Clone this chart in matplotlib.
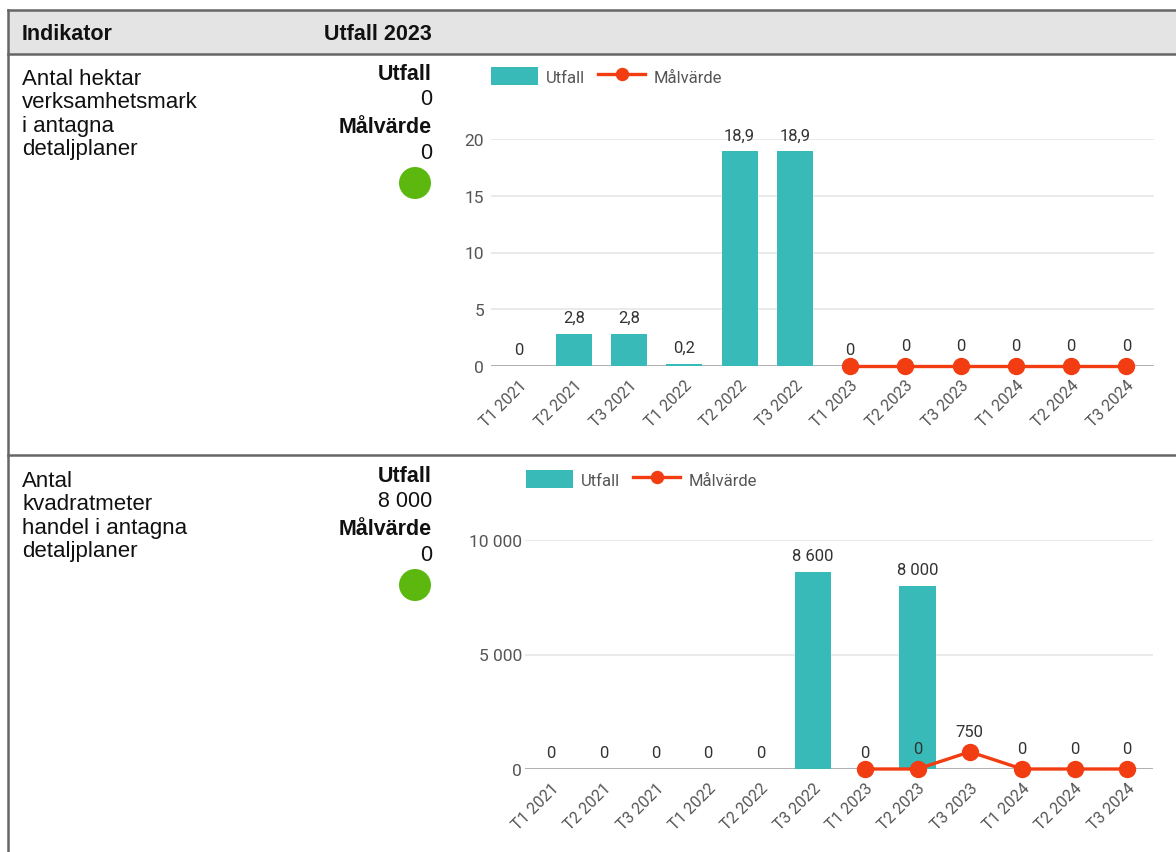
import matplotlib
matplotlib.use("Agg")
import matplotlib.pyplot as plt
import matplotlib.transforms as mtransforms
from matplotlib.patches import Rectangle, Ellipse
from matplotlib.lines import Line2D

# ---------------- data ----------------
categories = ["T1 2021", "T2 2021", "T3 2021", "T1 2022", "T2 2022", "T3 2022",
              "T1 2023", "T2 2023", "T3 2023", "T1 2024", "T2 2024", "T3 2024"]

utfall_hektar = [0, 2.8, 2.8, 0.2, 18.9, 18.9, 0, None, None, None, None, None]
malvarde_hektar = [None, None, None, None, None, None, 0, 0, 0, 0, 0, 0]
yticks_hektar = [0, 5, 10, 15, 20]

utfall_kvm = [0, 0, 0, 0, 0, 8600, 0, 8000, None, None, None, None]
malvarde_kvm = [None, None, None, None, None, None, 0, 0, 750, 0, 0, 0]
yticks_kvm = [0, 5000, 10000]

row_titles = [["Antal hektar", "verksamhetsmark", "i antagna", "detaljplaner"],
              ["Antal", "kvadratmeter", "handel i antagna", "detaljplaner"]]
row_utfall = ["0", "8 000"]
row_malvarde = ["0", "0"]
header = ["Indikator", "Utfall 2023"]
legend_labels = ["Utfall", "Målvärde"]

# ---------------- style ----------------
W, H = 1176, 853
TEAL = "#38bbb8"
RED = "#f23d12"
GREEN = "#5cb80f"
GRID = "#e6e6e6"
TICK = "#555555"
LABEL = "#333333"
ARIAL = ["Liberation Sans", "DejaVu Sans"]
ROBOTO = ["Roboto", "DejaVu Sans"]
FS_TXT = 15.5
FS_LEFT = 16

fig = plt.figure(figsize=(W / 100, H / 100), dpi=100)
fig.patch.set_facecolor("white")


def fx(x):
    return x / W


def fy(y):
    return 1 - y / H


def fmt(v):
    if v is None:
        return ""
    if float(v).is_integer():
        s = f"{int(v):,}".replace(",", " ")
    else:
        s = f"{v:.1f}".replace(".", ",")
    return s


# ---------------- table frame ----------------
fig.patches.append(Rectangle((fx(8), fy(55)), fx(W) - fx(8), fy(11) - fy(55),
                             transform=fig.transFigure, facecolor="#e4e4e4",
                             edgecolor="none", zorder=0))
for yy in [11, 55, 456]:
    fig.lines.append(Line2D([fx(8), fx(W)], [fy(yy), fy(yy)], transform=fig.transFigure,
                            color="#666666", lw=1.8))
fig.lines.append(Line2D([fx(8), fx(8)], [fy(11), fy(H)], transform=fig.transFigure,
                        color="#666666", lw=1.8))

fig.text(fx(22), fy(40), header[0], fontsize=FS_TXT, fontweight="bold", family=ARIAL,
         ha="left", va="baseline", color="#111111")
fig.text(fx(432), fy(40), header[1], fontsize=FS_TXT, fontweight="bold", family=ARIAL,
         ha="right", va="baseline", color="#111111")

row_offsets = [0, 402]
for i, off in enumerate(row_offsets):
    for j, line in enumerate(row_titles[i]):
        fig.text(fx(22), fy(85 + off + j * 23.5), line, fontsize=FS_LEFT, family=ARIAL,
                 ha="left", va="baseline", color="#111111")
    fig.text(fx(432), fy(80 + off), "Utfall", fontsize=FS_TXT, fontweight="bold",
             family=ARIAL, ha="right", va="baseline", color="#111111")
    fig.text(fx(432), fy(105 + off), row_utfall[i], fontsize=FS_TXT, family=ARIAL,
             ha="right", va="baseline", color="#111111")
    fig.text(fx(432), fy(133 + off), "Målvärde", fontsize=FS_TXT, fontweight="bold",
             family=ARIAL, ha="right", va="baseline", color="#111111")
    fig.text(fx(432), fy(159 + off), row_malvarde[i], fontsize=FS_TXT, family=ARIAL,
             ha="right", va="baseline", color="#111111")
    fig.patches.append(Ellipse((fx(415), fy(184 + off)), 32 / W, 32 / H,
                               transform=fig.transFigure, facecolor=GREEN, edgecolor="none"))


# ---------------- charts ----------------
def make_chart(left, right, y0px, ytop_px, ymax, utfall, malvarde, yticks, barw,
               legend_xy, ypad):
    ax = fig.add_axes([fx(left), fy(y0px), fx(right) - fx(left), fy(ytop_px) - fy(y0px)])
    n = len(categories)
    xs = list(range(n))
    ax.set_xlim(-0.5, n - 0.5)
    ax.set_ylim(0, ymax)
    for s in ax.spines.values():
        s.set_visible(False)
    for t in yticks[1:]:
        ax.axhline(t, color=GRID, lw=1.2, zorder=0)
    ax.axhline(0, color="#999999", lw=1.8, zorder=1)

    bx = [x for x, v in zip(xs, utfall) if v is not None]
    bv = [v for v in utfall if v is not None]
    bars = ax.bar(bx, bv, width=barw, color=TEAL, zorder=2, label=legend_labels[0])
    for x, v in zip(bx, bv):
        ax.annotate(fmt(v), (x, v), xytext=(0, 6.5), textcoords="offset points",
                    ha="center", va="bottom", fontsize=12, family=ROBOTO, color=LABEL)

    lx = [x for x, v in zip(xs, malvarde) if v is not None]
    lv = [v for v in malvarde if v is not None]
    line, = ax.plot(lx, lv, color=RED, lw=2.4, marker="o", markersize=11.5,
                    zorder=4, clip_on=False, label=legend_labels[1])
    for x, v in zip(lx, lv):
        if utfall[x] is not None and utfall[x] == v:
            continue
        ax.annotate(fmt(v), (x, v), xytext=(0, 9.5), textcoords="offset points",
                    ha="center", va="bottom", fontsize=12, family=ROBOTO, color=LABEL)

    ax.set_yticks(yticks)
    ax.set_yticklabels([fmt(t) for t in yticks], fontsize=12.5, family=ROBOTO, color=TICK)
    ax.set_xticks(xs)
    ax.set_xticklabels(categories, rotation=45, ha="right", rotation_mode="anchor",
                       fontsize=11.5, family=ROBOTO, color=TICK)
    shift = mtransforms.ScaledTranslation(6 / 100, 0, fig.dpi_scale_trans)
    for lab in ax.get_xticklabels():
        lab.set_transform(lab.get_transform() + shift)
    ax.tick_params(axis="both", length=0)
    ax.tick_params(axis="y", pad=ypad)
    ax.tick_params(axis="x", pad=8)

    leg = fig.legend(handles=[bars, line], labels=legend_labels, ncol=2, frameon=False,
                     loc="center left", bbox_to_anchor=(fx(legend_xy[0]), fy(legend_xy[1])),
                     bbox_transform=fig.transFigure, handlelength=2.8, handleheight=1.25,
                     columnspacing=0.8, handletextpad=0.5, borderaxespad=0, borderpad=0,
                     markerscale=0.75, prop={"family": ROBOTO, "size": 12})
    for t in leg.get_texts():
        t.set_color(TICK)
    return ax


make_chart(491, 1154, 367, 140, 20, utfall_hektar, malvarde_hektar, yticks_hektar, 0.65,
           (491, 77), 5)
make_chart(525, 1153, 770, 541, 10000, utfall_kvm, malvarde_kvm, yticks_kvm, 0.69,
           (526, 480), 2)

fig.savefig("out.png", dpi=100)
